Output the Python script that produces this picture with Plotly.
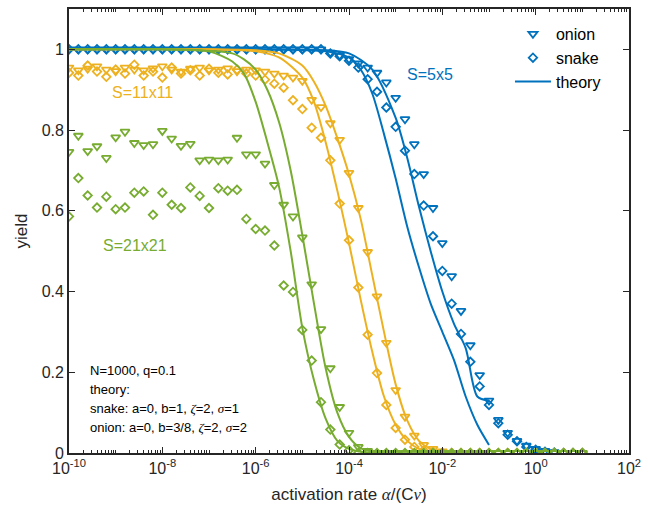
import plotly.graph_objects as go

BLUE = "#0072BD"
YELLOW = "#EDB120"
GREEN = "#77AC30"
INK = "#262626"

# measured rates: log10 positions -10 ... 1 in 0.2 steps
rate_exp = [round(-10 + 0.2 * k, 1) for k in range(56)]
rate = [10 ** e for e in rate_exp]

# ---- S = 5x5 ----
blue_onion = [1.0] * 28 + [0.992, 0.985, 0.976, 0.965, 0.955, 0.942, 0.918, 0.880, 0.827, 0.765,
                           0.691, 0.607, 0.520, 0.438, 0.352, 0.267, 0.193, 0.130, 0.082, 0.050,
                           0.030, 0.018, 0.010, 0.005, 0.002, 0.0, 0.0, 0.0]
blue_snake = [1.0] * 28 + [0.990, 0.983, 0.972, 0.955, 0.926, 0.895, 0.856, 0.808, 0.749, 0.691,
                           0.613, 0.537, 0.451, 0.370, 0.295, 0.226, 0.165, 0.119, 0.074, 0.045,
                           0.029, 0.015, 0.008, 0.003, 0.001, 0.0, 0.0, 0.0]

# ---- S = 11x11 ----
yellow_onion = [0.955, 0.948, 0.952, 0.958, 0.950, 0.946, 0.955, 0.950, 0.948, 0.953,
                0.958, 0.950, 0.945, 0.952, 0.955, 0.948, 0.950, 0.953, 0.946, 0.950,
                0.948, 0.945, 0.940, 0.935, 0.930, 0.922, 0.875, 0.857, 0.817, 0.776,
                0.694, 0.607, 0.498, 0.388, 0.273, 0.156, 0.090, 0.043, 0.020, 0.010,
                0.004] + [0.0] * 15
yellow_snake = [0.942, 0.935, 0.960, 0.945, 0.932, 0.950, 0.940, 0.962, 0.935, 0.945,
                0.930, 0.955, 0.940, 0.948, 0.935, 0.952, 0.942, 0.938, 0.950, 0.940,
                0.935, 0.925, 0.915, 0.905, 0.874, 0.852, 0.806, 0.781, 0.725, 0.618,
                0.527, 0.410, 0.293, 0.198, 0.119, 0.062, 0.033, 0.015, 0.007, 0.003] + [0.0] * 16

# ---- S = 21x21 ----
green_onion = [0.746, 0.786, 0.748, 0.760, 0.731, 0.782, 0.796, 0.768, 0.763, 0.765,
               0.798, 0.779, 0.761, 0.766, 0.725, 0.727, 0.725, 0.727, 0.781, 0.740,
               0.740, 0.717, 0.664, 0.615, 0.586, 0.534, 0.418, 0.307, 0.210, 0.114,
               0.050, 0.015, 0.005] + [0.0] * 23
green_snake = [0.586, 0.681, 0.638, 0.608, 0.635, 0.604, 0.608, 0.645, 0.648, 0.590,
               0.645, 0.615, 0.607, 0.658, 0.637, 0.607, 0.656, 0.650, 0.652, 0.580,
               0.555, 0.551, 0.514, 0.415, 0.399, 0.305, 0.229, 0.126, 0.058, 0.021,
               0.007] + [0.0] * 25

# ---- theory curves (log10 rate, yield) ----
th_blue_snake_exp = [-10, -6, -4.5, -4.0, -3.75, -3.5, -3.25, -3.0, -2.75, -2.5, -2.25, -2.0, -1.75, -1.5, -1.25, -1.0]
th_blue_snake_y = [1.0, 1.0, 0.995, 0.98, 0.95, 0.89, 0.79, 0.68, 0.56, 0.46, 0.37, 0.30, 0.23, 0.14, 0.07, 0.02]
th_blue_onion_exp = [-10, -6, -4.5, -4.0, -3.5, -3.0, -2.75, -2.5, -2.25, -2.0, -1.75, -1.5, -1.25, -1.0]
th_blue_onion_y = [1.0, 1.0, 0.998, 0.99, 0.95, 0.83, 0.73, 0.61, 0.50, 0.40, 0.32, 0.26, 0.14, 0.13]

th_yellow_snake_exp = [-10, -7, -6.0, -5.5, -5.0, -4.75, -4.5, -4.25, -4.0, -3.75, -3.5, -3.25, -3.0, -2.75, -2.5, -2.25, -2.0, -1.0]
th_yellow_snake_y = [1.0, 1.0, 0.995, 0.98, 0.93, 0.87, 0.77, 0.65, 0.52, 0.38, 0.25, 0.14, 0.07, 0.03, 0.01, 0.003, 0.0, 0.0]
th_yellow_onion_exp = [-10, -7, -6.0, -5.5, -5.0, -4.75, -4.5, -4.25, -4.0, -3.75, -3.5, -3.25, -3.0, -2.75, -2.5, -2.25, -2.0, -1.75, -1.0]
th_yellow_onion_y = [1.0, 1.0, 0.998, 0.99, 0.96, 0.92, 0.86, 0.78, 0.69, 0.58, 0.44, 0.30, 0.17, 0.08, 0.03, 0.01, 0.003, 0.0, 0.0]

th_green_snake_exp = [-10, -8, -7.0, -6.5, -6.25, -6.0, -5.75, -5.5, -5.25, -5.0, -4.75, -4.5, -4.25, -4.0, -3.75, -3.5, -1.0]
th_green_snake_y = [1.0, 1.0, 0.995, 0.97, 0.94, 0.87, 0.77, 0.66, 0.50, 0.31, 0.18, 0.085, 0.03, 0.01, 0.003, 0.0, 0.0]
th_green_onion_exp = [-10, -8, -6.5, -6.25, -6.0, -5.75, -5.5, -5.25, -5.0, -4.75, -4.5, -4.25, -4.0, -3.75, -3.5, -3.25, -1.0]
th_green_onion_y = [1.0, 1.0, 0.99, 0.975, 0.95, 0.90, 0.82, 0.70, 0.54, 0.37, 0.21, 0.10, 0.04, 0.012, 0.003, 0.0, 0.0]

x_tick_exp = [-10, -8, -6, -4, -2, 0, 2]
y_ticks = [0, 0.2, 0.4, 0.6, 0.8, 1]

TRI_SIZE = 8
DIA_SIZE = 6.5
MLW = 1.8

fig = go.Figure()


def add_group(color, onion, snake, sn_exp, sn_y, on_exp, on_y, legend):
    fig.add_trace(go.Scatter(x=rate, y=onion, mode="markers", name="onion", showlegend=legend,
                             marker=dict(symbol="triangle-down-open", size=TRI_SIZE, color=color,
                                         line=dict(width=MLW, color=color))))
    fig.add_trace(go.Scatter(x=rate, y=snake, mode="markers", name="snake", showlegend=legend,
                             marker=dict(symbol="diamond-open", size=DIA_SIZE, color=color,
                                         line=dict(width=MLW, color=color))))
    fig.add_trace(go.Scatter(x=[10 ** e for e in sn_exp], y=sn_y, mode="lines", name="theory",
                             showlegend=legend, line=dict(color=color, width=2, shape="spline", smoothing=0.8)))
    fig.add_trace(go.Scatter(x=[10 ** e for e in on_exp], y=on_y, mode="lines", name="theory",
                             showlegend=False, line=dict(color=color, width=2, shape="spline", smoothing=0.8)))


add_group(BLUE, blue_onion, blue_snake, th_blue_snake_exp, th_blue_snake_y,
          th_blue_onion_exp, th_blue_onion_y, True)
add_group(YELLOW, yellow_onion, yellow_snake, th_yellow_snake_exp, th_yellow_snake_y,
          th_yellow_onion_exp, th_yellow_onion_y, False)
add_group(GREEN, green_onion, green_snake, th_green_snake_exp, th_green_snake_y,
          th_green_onion_exp, th_green_onion_y, False)

minor_vals = []
for d in range(-10, 2):
    for m in range(1, 10):
        v = m * 10 ** d
        if m == 1 and d % 2 == 0:
            continue
        minor_vals.append(v)

FONT = "Liberation Sans, Arial, sans-serif"


def mathit(s):
    return "<span style=\"font-family:'Liberation Serif', 'DejaVu Serif', serif\"><i>%s</i></span>" % s


fig.update_xaxes(
    type="log", range=[-10, 2],
    tickvals=[10 ** e for e in x_tick_exp],
    ticktext=["10<sup>%d</sup>" % e for e in x_tick_exp],
    ticks="inside", ticklen=6, tickwidth=1.2, tickcolor=INK,
    minor=dict(tickvals=minor_vals, ticks="inside", ticklen=3, tickwidth=1, tickcolor=INK, showgrid=False),
    showline=True, linecolor=INK, linewidth=1.8, mirror="allticks",
    showgrid=False, zeroline=False,
    tickfont=dict(size=16, color=INK, family=FONT),
    title=dict(text="activation rate " + mathit("α") + "/(C" + mathit("ν") + ")",
               font=dict(size=17, color=INK, family=FONT), standoff=12),
)
fig.update_yaxes(
    range=[0, 1.1], tickvals=y_ticks, ticktext=["0", "0.2", "0.4", "0.6", "0.8", "1"],
    ticks="inside", ticklen=6, tickwidth=1.2, tickcolor=INK,
    showline=True, linecolor=INK, linewidth=1.8, mirror="allticks",
    showgrid=False, zeroline=False,
    tickfont=dict(size=16, color=INK, family=FONT),
    title=dict(text="yield", font=dict(size=17, color=INK, family=FONT), standoff=10),
)

L, R, T, B = 68.5, 633, 7, 453.3
W, H = 648, 516


def px(xp, yp):
    return (xp - L) / (R - L), (B - yp) / (B - T)


annos = [
    ("S=5x5", 432, 73, BLUE, 16),
    ("S=11x11", 143, 91, YELLOW, 16),
    ("S=21x21", 135, 245, GREEN, 16),
]
for txt, xp, yp, col, fs in annos:
    ax, ay = px(xp, yp)
    fig.add_annotation(text=txt, x=ax, y=ay, xref="paper", yref="paper", showarrow=False,
                       font=dict(size=fs, color=col, family=FONT), xanchor="center", yanchor="middle")

info = ["N=1000, q=0.1", "theory:",
        "snake: a=0, b=1, " + mathit("ζ") + "=2, " + mathit("σ") + "=1",
        "onion: a=0, b=3/8, " + mathit("ζ") + "=2, " + mathit("σ") + "=2"]
for i, t in enumerate(info):
    ax, ay = px(88, 370 + 19.3 * i)
    fig.add_annotation(text=t, x=ax, y=ay, xref="paper", yref="paper", showarrow=False,
                       font=dict(size=13, color="black", family=FONT), xanchor="left", yanchor="middle")

lx, ly = px(513, 15)
fig.update_layout(
    width=W, height=H,
    margin=dict(l=L, r=W - R, t=T, b=H - B),
    paper_bgcolor="white", plot_bgcolor="white",
    showlegend=True,
    legend=dict(x=lx, y=ly, xanchor="left", yanchor="top", bgcolor="rgba(0,0,0,0)",
                font=dict(size=16, color="black", family=FONT), tracegroupgap=0, itemwidth=36),
)

fig.write_html("out.html")
